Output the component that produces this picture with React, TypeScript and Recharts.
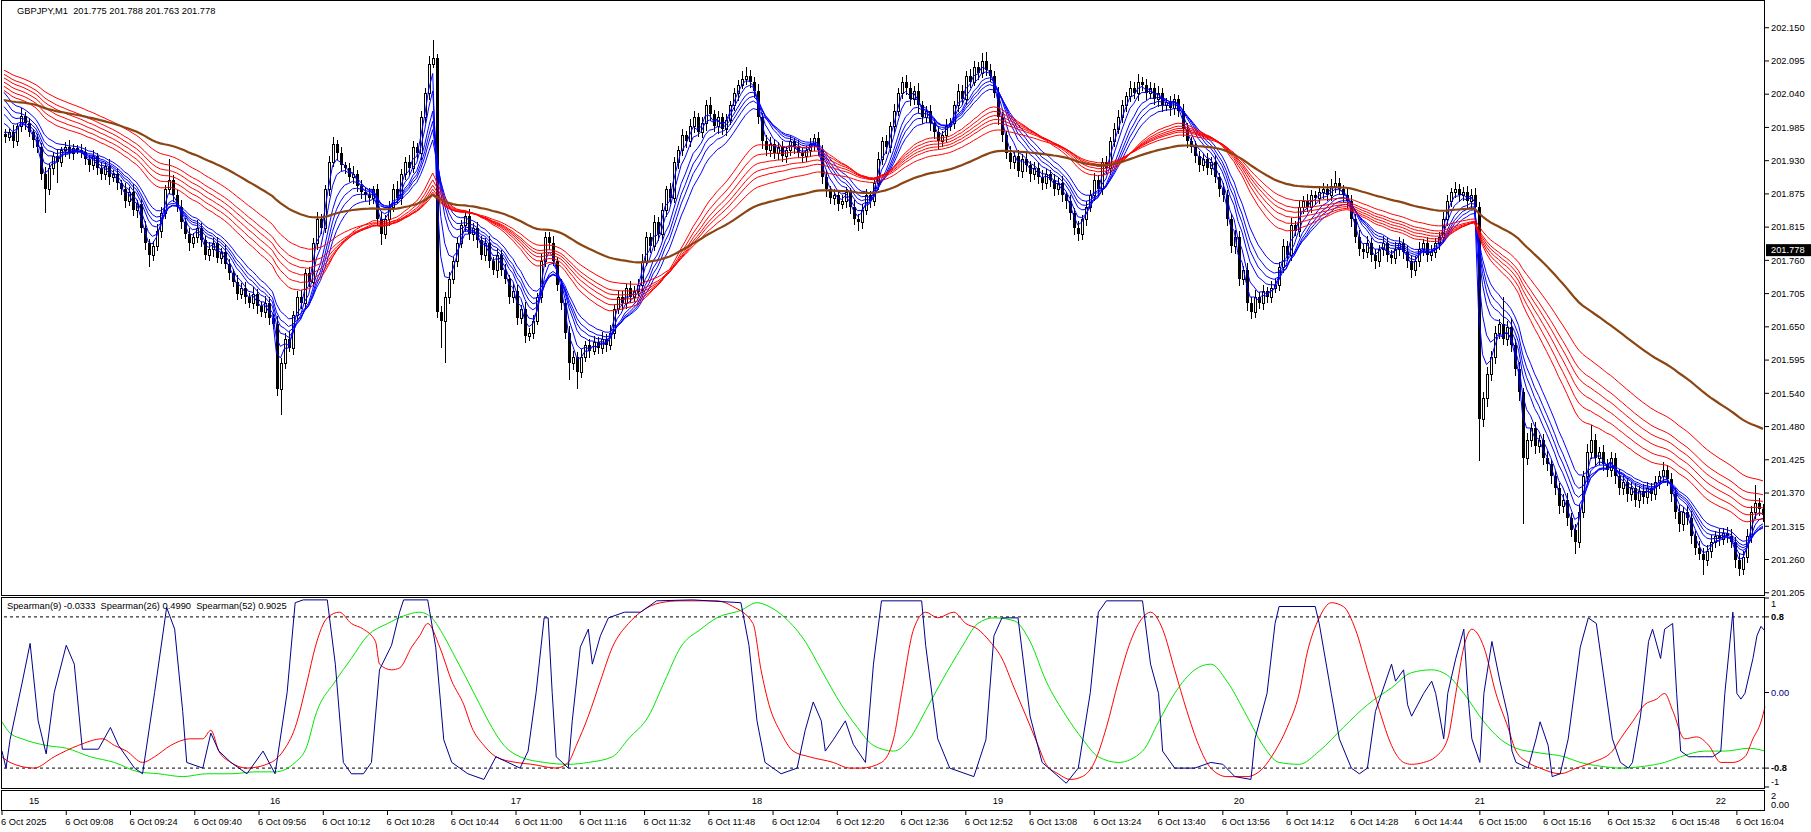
import React from 'react';
import { ComposedChart, Line, Bar, XAxis, YAxis, ReferenceLine } from 'recharts';

// ---------- DATA ----------
// closes in thousandths above 201.000 (e.g. 968 -> 201.968), one per 1-minute bar from 08:52
const closeMilli = [
  968, 975, 960, 985, 1002, 990, 975, 962, 950,
  905, 880, 915,
  935, 925, 945, 950, 940, 948, 945, 942,
  930, 920, 935, 915, 905, 918, 900, 905, 890,
  880, 860, 875, 845, 855, 815, 790, 770, 785,
  810, 840, 880, 895, 870,
  850, 825, 805, 790, 800, 815, 795, 770, 780, 790, 765, 775,
  755, 740, 725, 705, 715, 700, 690, 705, 685, 675, 690, 665, 655,
  545, 590, 630, 615, 670, 700, 690, 740, 725, 790, 830, 815, 880, 925, 955,
  940, 920, 915, 900, 905, 885, 875, 870, 865, 880,
  830, 805, 830, 850, 880, 865, 905, 925, 915, 950, 940, 1000, 1040, 1090, 1100,
  675, 660, 700, 730, 760, 790, 820, 835, 805, 815,
  795, 770, 790, 760, 745, 770, 745,
  730, 700, 710, 665, 680, 635, 640, 660,
  700, 760, 800, 790, 760, 720,
  690, 640, 590, 600, 575,
  600, 620, 610, 625, 615, 630, 620, 640,
  680, 700, 690, 715, 700, 710, 720,
  760, 800, 785, 825, 805, 845, 880, 865, 925, 945,
  970, 960, 985, 1000, 975, 990, 1020, 1005, 985, 1000, 980, 995,
  1020, 1040, 1055, 1065, 1070, 1060, 1045,
  1000, 960, 945, 955,
  940, 950, 935, 945, 960, 950, 940, 935, 945, 955, 965, 945,
  900, 880, 865, 870, 855, 860, 875, 850, 830, 825,
  845, 870, 860, 890, 930, 960, 950, 985,
  1010, 1040, 1060, 1050, 1030, 1045, 1020, 1000, 1010,
  990, 975, 960, 970, 985, 990,
  1020, 1045, 1030, 1070, 1060, 1085, 1075, 1095, 1080, 1070,
  1040, 1000, 970, 940, 925, 935, 910, 930,
  920, 905, 915, 900, 890, 905, 895, 880, 890, 870, 860,
  840, 815, 805, 830, 850,
  870, 895, 880, 925, 915, 960, 980,
  1000, 1020, 1035, 1050, 1040, 1060, 1055, 1040, 1050,
  1030, 1040, 1020, 1025, 1015, 1030, 1010,
  980, 960, 950, 935, 920, 930, 915, 925, 900, 880, 870,
  830, 785, 800, 730, 745, 690,
  675, 700, 690, 710, 700, 715, 720,
  750, 785, 770, 820, 810, 850,
  860, 850, 870, 865, 875, 880, 870, 885, 890, 880, 870, 860,
  830, 800, 780, 775,
  790, 770, 760, 780, 790, 770, 765, 780, 790, 775, 760, 745, 760, 780, 790, 770, 775, 790, 800,
  830, 860, 875, 880, 870, 875, 860, 870, 850,
  495, 530, 570, 600, 640, 655, 630, 650, 620,
  580, 540, 430, 460,
  480, 450, 460, 430, 420,
  400, 380, 350, 360, 330, 310, 290,
  340, 400, 440, 460,
  430, 440, 420, 410, 430, 400, 380, 390,
  370, 380, 360, 375, 365, 380, 370, 390,
  400, 410, 395,
  370, 340, 320, 340, 330, 300, 280, 270, 260,
  275, 290, 300, 295, 305, 300, 290,
  260, 245, 265,
  300, 340, 355, 345, 335,
];
const firstOpen = 201.972;

// upper / lower wick lengths in thousandths
const wickUp = [
  8,6,12,5,14,7,9,6,10,8, 12,9,7,11,6,9,13,8,6,10,
  9,7,11,6,10,8,12,7,9,6, 10,8,13,7,9,11,6,8,12,10,
  7,35,9,8,12,6,10,7,13,9, 6,11,8,10,7,12,9,6,11,8,
  10,7,12,8,6,11,9,7,13,8, 10,12,7,9,11,6,10,8,12,9,
  7,10,12,8,11,6,9,13,7,10, 8,12,6,9,11,7,10,8,14,9,
  8,12,10,7,11,9,12,30,6,10, 8,12,7,10,9,6,11,8,10,7,
  9,11,7,12,8,10,6,11,9,7, 12,8,10,7,11,9,8,12,6,10,
  7,11,9,8,12,6,10,9,7,11, 8,12,7,10,9,6,11,8,10,12,
  9,7,11,8,12,6,10,9,7,11, 8,12,10,7,11,9,14,8,10,7,
  11,8,10,7,12,15,9,7,11,8, 10,12,7,9,11,8,10,6,12,9,
  8,11,7,10,9,12,6,10,8,11, 9,7,12,8,10,11,7,9,12,8,
  10,8,12,9,7,11,10,8,12,7, 9,11,8,10,7,12,9,8,11,10,
  8,11,9,7,12,15,10,8,11,9, 7,12,8,10,9,11,7,10,8,12,
  9,7,11,8,12,6,10,9,11,7, 10,8,12,9,7,11,8,10,12,9,
  8,11,9,12,7,10,9,8,12,10, 7,11,9,8,12,10,7,11,8,9,
  10,8,12,7,11,9,8,12,10,7, 11,9,12,8,10,7,11,9,8,12,
  9,11,7,10,8,12,9,7,11,10, 8,12,20,9,7,11,10,8,12,9,
  11,8,10,7,12,9,8,11,10,7, 12,9,8,11,7,10,12,8,9,11,
  10,7,12,9,8,11,10,12,8,10, 12,9,11,8,45,10,12,9,11,8,
  12,9,11,8,10,12,7,11,9,10, 12,8,10,11,9,14,25,10,8,12,
  9,11,8,12,10,7,11,9,8,12, 10,9,11,8,14,9,11,10,12,8,
  10,12,8,11,9,10,12,8,11,9, 10,12,8,11,9,12,10,30,9,8,
];
const wickDn = [
  10,8,12,7,9,11,8,13,9,10, 40,9,12,35,8,11,9,12,7,10,
  9,12,8,11,10,9,13,8,11,9, 12,8,10,13,9,11,20,10,8,12,
  10,8,12,9,11,8,13,9,10,12, 8,11,13,9,10,8,12,9,11,8,
  12,9,11,13,8,10,12,9,11,42, 10,8,12,9,11,10,8,9,11,10,
  9,11,8,12,10,9,8,12,10,11, 9,12,10,11,19,9,11,8,10,12,
  10,11,8,10,12,9,11,8,10,45, 70,12,9,11,8,12,10,11,13,9,
  11,12,9,13,10,9,12,11,13,10, 12,9,11,8,10,11,12,9,11,12,
  10,30,12,30,11,9,12,8,11,10, 12,9,11,8,12,10,11,9,8,11,
  9,11,8,12,10,11,9,8,11,10, 12,9,11,8,10,12,11,9,12,10,
  11,8,10,12,8,11,10,12,11,13, 10,11,9,12,10,11,9,12,8,11,
  10,11,12,9,11,13,10,12,11,9, 11,12,10,15,11,9,12,8,11,10,
  12,9,11,8,10,12,11,9,13,11, 9,12,11,13,10,11,8,10,11,9,
  10,11,8,12,9,11,10,8,12,11, 9,12,11,10,12,11,13,10,11,12,
  10,11,12,9,11,13,12,11,12,10, 11,8,10,11,9,10,11,10,8,10,
  11,9,10,12,10,11,9,10,12,11, 10,12,11,10,12,11,10,12,11,10,
  11,12,10,13,11,12,11,13,12,11, 14,12,11,10,12,11,10,9,11,10,
  11,10,9,10,11,9,10,11,10,11, 10,9,11,10,12,11,13,10,12,11,
  10,12,13,10,11,12,11,10,12,11, 12,13,11,10,11,12,11,10,11,10,
  11,10,9,11,10,11,12,10,70,12, 14,11,12,10,11,12,13,12,14,110,
  12,11,13,11,12,11,13,12,14,12, 13,12,20,11,10,11,12,13,11,12,
  11,12,13,11,12,13,11,12,13,11, 12,11,10,11,12,11,13,12,13,11,
  12,13,12,11,25,11,12,11,12,11, 12,11,13,12,11,10,11,12,11,12,
];

// moving averages (GMMA + trend), starting values read at the left edge
const shortPeriods = [3, 5, 8, 10, 12, 15];
const shortSeeds = [201.975, 201.990, 202.005, 202.018, 202.030, 202.042];
const longPeriods = [30, 35, 40, 45, 50, 60];
const longSeeds = [202.045, 202.052, 202.059, 202.066, 202.072, 202.079];
const trendPeriod = 100;
const trendSeed = 202.029;

// Spearman oscillators: [bar, value]
const s9Points: [number, number][] = [
  [0,-0.62],[1,-0.8],[2,-0.5],[5,0.1],[7,0.52],[9,-0.3],[11,-0.65],[13,0.0],[16,0.5],[18,0.3],[20,-0.6],[24,-0.6],[27,-0.37],[29,-0.56],[33,-0.8],[35,-0.86],[38,0.0],[41,0.9],[43,0.67],[45,-0.2],[46,-0.74],[50,-0.8],[52,-0.43],[54,-0.62],[57,-0.74],[61,-0.86],[65,-0.62],[68,-0.86],[71,0.0],[73,0.95],[75,0.98],[81,0.98],[83,0.3],[85,-0.74],[87,-0.86],[90,-0.86],[92,-0.74],[94,0.24],[97,0.5],[99,0.85],[100,0.98],[106,0.98],[108,0.48],[110,-0.5],[112,-0.74],[116,-0.86],[120,-0.92],[123,-0.68],[126,-0.74],[129,-0.8],[131,-0.62],[133,0.0],[135,0.79],[136,0.79],[137,0.0],[138,-0.68],[141,-0.8],[142,-0.3],[144,0.48],[146,0.67],[147,0.3],[149,0.6],[151,0.79],[155,0.85],[159,0.85],[163,0.97],[172,0.98],[184,0.95],[186,0.5],[188,-0.3],[190,-0.74],[194,-0.86],[198,-0.8],[200,-0.4],[202,-0.1],[204,-0.3],[205,-0.62],[207,-0.5],[210,-0.3],[212,-0.55],[215,-0.74],[217,0.3],[219,0.97],[229,0.97],[230,0.5],[233,-0.49],[236,-0.8],[242,-0.89],[245,-0.5],[247,0.6],[249,0.79],[253,0.79],[256,-0.25],[259,-0.74],[265,-0.96],[268,-0.8],[271,0.0],[273,0.85],[275,0.97],[284,0.97],[286,0.3],[288,-0.01],[289,-0.62],[292,-0.8],[297,-0.8],[301,-0.74],[304,-0.76],[307,-0.89],[311,-0.92],[312,-0.49],[315,-0.01],[317,0.73],[318,0.91],[327,0.91],[328,0.73],[331,-0.01],[333,-0.49],[336,-0.8],[338,-0.86],[340,-0.8],[342,-0.2],[346,0.3],[347,0.12],[349,0.24],[350,-0.13],[351,-0.25],[354,-0.01],[356,0.12],[357,-0.01],[359,-0.49],[360,-0.01],[362,0.36],[364,0.67],[365,-0.01],[366,-0.49],[368,-0.74],[369,-0.01],[371,0.54],[373,0.12],[375,-0.25],[376,-0.62],[377,-0.74],[380,-0.8],[382,-0.49],[383,-0.31],[385,-0.56],[386,-0.89],[388,-0.86],[390,-0.49],[393,0.48],[395,0.79],[397,0.73],[399,0.12],[401,-0.49],[403,-0.74],[405,-0.8],[406,-0.74],[408,-0.25],[410,0.54],[411,0.67],[413,0.36],[414,0.67],[416,0.73],[417,-0.01],[418,-0.62],[420,-0.68],[422,-0.68],[424,-0.68],[426,-0.68],[428,-0.62],[429,-0.01],[431,0.85],[432,-0.01],[433,-0.07],[434,-0.01],[436,0.36],[437,0.6],[438,0.7],[439,0.65],
];
const s26Points: [number, number][] = [
  [0,-0.68],[2,-0.74],[8,-0.8],[13,-0.68],[19,-0.56],[25,-0.49],[28,-0.56],[31,-0.62],[35,-0.74],[38,-0.68],[42,-0.56],[47,-0.49],[50,-0.49],[52,-0.4],[54,-0.62],[57,-0.74],[61,-0.8],[67,-0.74],[70,-0.62],[73,-0.37],[76,0.12],[78,0.48],[81,0.79],[84,0.85],[87,0.73],[90,0.67],[93,0.54],[94,0.3],[97,0.24],[99,0.26],[102,0.48],[104,0.6],[106,0.73],[109,0.48],[112,0.12],[115,-0.13],[117,-0.37],[120,-0.56],[123,-0.68],[128,-0.74],[132,-0.76],[138,-0.8],[141,-0.74],[143,-0.56],[146,-0.25],[149,0.12],[152,0.48],[156,0.73],[159,0.85],[164,0.95],[169,0.97],[178,0.97],[182,0.91],[187,0.73],[189,0.24],[191,-0.13],[194,-0.43],[197,-0.62],[201,-0.68],[207,-0.74],[211,-0.8],[214,-0.8],[219,-0.74],[222,-0.49],[224,-0.01],[227,0.67],[230,0.85],[233,0.79],[237,0.85],[240,0.73],[243,0.67],[246,0.54],[249,0.36],[252,0.05],[255,-0.25],[258,-0.56],[260,-0.76],[263,-0.86],[266,-0.92],[269,-0.89],[272,-0.74],[275,-0.37],[278,0.12],[281,0.54],[284,0.79],[286,0.85],[289,0.67],[292,0.24],[295,-0.19],[298,-0.56],[301,-0.8],[305,-0.89],[310,-0.89],[314,-0.8],[317,-0.62],[320,-0.37],[323,-0.01],[325,0.42],[328,0.79],[331,0.95],[334,0.91],[337,0.67],[340,0.24],[343,-0.19],[346,-0.56],[349,-0.74],[351,-0.76],[354,-0.74],[357,-0.68],[360,-0.49],[362,-0.01],[364,0.48],[366,0.67],[369,0.48],[372,-0.01],[375,-0.37],[377,-0.62],[380,-0.74],[383,-0.8],[388,-0.86],[392,-0.8],[396,-0.74],[401,-0.62],[403,-0.49],[406,-0.31],[409,-0.13],[412,-0.07],[414,-0.01],[416,-0.19],[419,-0.49],[422,-0.47],[425,-0.56],[428,-0.74],[431,-0.74],[434,-0.68],[436,-0.49],[438,-0.31],[439,-0.15],
];
const s52Points: [number, number][] = [
  [0,-0.31],[2,-0.43],[5,-0.49],[11,-0.56],[16,-0.59],[22,-0.68],[28,-0.74],[34,-0.84],[39,-0.86],[45,-0.89],[51,-0.86],[57,-0.86],[63,-0.84],[68,-0.84],[73,-0.74],[76,-0.56],[78,-0.25],[83,0.12],[87,0.36],[91,0.6],[96,0.73],[100,0.81],[104,0.85],[107,0.79],[110,0.6],[113,0.36],[116,0.12],[119,-0.13],[122,-0.37],[125,-0.56],[129,-0.68],[135,-0.74],[141,-0.76],[146,-0.74],[152,-0.68],[156,-0.49],[161,-0.25],[165,0.12],[169,0.48],[174,0.67],[178,0.79],[184,0.87],[188,0.95],[191,0.91],[195,0.79],[200,0.54],[204,0.24],[209,-0.13],[213,-0.37],[217,-0.56],[222,-0.62],[226,-0.49],[230,-0.19],[234,0.12],[239,0.48],[243,0.73],[247,0.79],[252,0.76],[256,0.54],[260,0.12],[265,-0.25],[269,-0.49],[273,-0.68],[278,-0.74],[284,-0.62],[288,-0.31],[292,-0.01],[297,0.24],[301,0.3],[305,0.12],[310,-0.25],[314,-0.56],[318,-0.74],[323,-0.76],[328,-0.62],[334,-0.37],[340,-0.13],[346,0.05],[351,0.21],[356,0.24],[360,0.18],[364,-0.01],[369,-0.31],[373,-0.49],[377,-0.59],[383,-0.64],[389,-0.68],[393,-0.74],[398,-0.78],[403,-0.8],[409,-0.78],[414,-0.74],[418,-0.68],[424,-0.62],[429,-0.62],[435,-0.59],[439,-0.62],
];

// axis labels
const priceTickLabels = ['202.150','202.095','202.040','201.985','201.930','201.875','201.815','201.760','201.705','201.650','201.595','201.540','201.480','201.425','201.370','201.315','201.260','201.205'];
const priceTickTop = 202.150;
const priceTickBottom = 201.205;
const priceDomain: [number, number] = [201.2012, 202.1947];
const currentPrice = 201.778;
const currentPriceLabel = '201.778';
const headerText = 'GBPJPY,M1  201.775 201.788 201.763 201.778';
const oscHeaderText = 'Spearman(9) -0.0333  Spearman(26) 0.4990  Spearman(52) 0.9025';
const oscTickValues = [1, 0.8, 0, -0.8, -1];
const oscTickLabels = ['1', '0.8', '0.00', '-0.8', '-1'];
const oscLevels = [0.8, -0.8];
const stripTickValues = [2, 0];
const stripTickLabels = ['2', '0.00'];
const timeTickBars = [0,16,32,48,64,80,96,112,128,144,160,176,192,208,224,240,256,272,288,304,320,336,352,368,384,400,416,432];
const timeTickLabels = ['6 Oct 2025','6 Oct 09:08','6 Oct 09:24','6 Oct 09:40','6 Oct 09:56','6 Oct 10:12','6 Oct 10:28','6 Oct 10:44','6 Oct 11:00','6 Oct 11:16','6 Oct 11:32','6 Oct 11:48','6 Oct 12:04','6 Oct 12:20','6 Oct 12:36','6 Oct 12:52','6 Oct 13:08','6 Oct 13:24','6 Oct 13:40','6 Oct 13:56','6 Oct 14:12','6 Oct 14:28','6 Oct 14:44','6 Oct 15:00','6 Oct 15:16','6 Oct 15:32','6 Oct 15:48','6 Oct 16:04'];
const hourBars = [8, 68, 128, 188, 248, 308, 368, 428];
const hourLabels = ['15', '16', '17', '18', '19', '20', '21', '22'];

// ---------- BUILD TABLE ----------
const closes = closeMilli.map((v) => 201 + v / 1000);
const opens = closes.map((c, i) => (i === 0 ? firstOpen : closes[i - 1]));
const highs = closes.map((c, i) => Math.max(opens[i], c) + (wickUp[i] ?? 8) / 1000);
const lows = closes.map((c, i) => Math.min(opens[i], c) - (wickDn[i] ?? 8) / 1000);

function ema(period: number, seed: number): number[] {
  const a = 2 / (period + 1);
  let e = seed;
  return closes.map((c, i) => {
    if (i > 0) e = e + a * (c - e);
    return e;
  });
}
const shortEmas = shortPeriods.map((p, k) => ema(p, shortSeeds[k]));
const longEmas = longPeriods.map((p, k) => ema(p, longSeeds[k]));
const trendEma = ema(trendPeriod, trendSeed);

type Row = Record<string, any>;
const rows: Row[] = closes.map((c, i) => {
  const r: Row = { i, open: opens[i], close: c, high: highs[i], low: lows[i], range: [lows[i], highs[i]] };
  shortEmas.forEach((arr, k) => (r['s' + k] = arr[i]));
  longEmas.forEach((arr, k) => (r['l' + k] = arr[i]));
  r.trend = trendEma[i];
  r.o9 = null; r.o26 = null; r.o52 = null; r.hourPos = null;
  return r;
});
s9Points.forEach(([b, v]) => { if (rows[b]) rows[b].o9 = v; });
s26Points.forEach(([b, v]) => { if (rows[b]) rows[b].o26 = v; });
s52Points.forEach(([b, v]) => { if (rows[b]) rows[b].o52 = v; });
hourBars.forEach((b, k) => { if (rows[b]) { rows[b].hourPos = 1; rows[b].hourLabel = hourLabels[k]; } });

const priceStep = (priceTickTop - priceTickBottom) / (priceTickLabels.length - 1);
const priceTickValues = priceTickLabels.map((_, k) => priceTickTop - k * priceStep);

// ---------- STYLE ----------
const FONT = '"Liberation Sans", Arial, sans-serif';
const FS = 9.3;
const W = 1811;
const AXIS_W = 46;

const Candle = (props: any) => {
  const { x, y, width, height, payload } = props;
  if (!payload || x == null || y == null) return <g />;
  const { open, close, high, low } = payload;
  const cx = Math.round(x + width / 2);
  const span = high - low;
  const k = span > 0 ? height / span : 0;
  const yOf = (p: number) => y + (high - p) * k;
  const top = Math.round(yOf(Math.max(open, close)));
  const bot = Math.round(yOf(Math.min(open, close)));
  const bull = close >= open;
  return (
    <g shapeRendering="crispEdges">
      <line x1={cx + 0.5} x2={cx + 0.5} y1={Math.round(y)} y2={Math.round(y + height)} stroke="#000" strokeWidth={1} />
      {bull ? (
        <rect x={cx - 0.5} y={top + 0.5} width={2} height={Math.max(bot - top, 1)} fill="#fff" stroke="#000" strokeWidth={1} />
      ) : (
        <rect x={cx - 1} y={top} width={3} height={Math.max(bot - top, 1)} fill="#000" />
      )}
    </g>
  );
};

const PriceTag = (props: any) => {
  const vb = props.viewBox || {};
  if (vb.y == null) return <g />;
  const x0 = vb.x + vb.width + 1;
  return (
    <g>
      <rect x={x0} y={vb.y - 6} width={AXIS_W} height={12} fill="#000" />
      <text x={x0 + 5} y={vb.y} dy="0.35em" fill="#fff" fontSize={FS} fontFamily={FONT}>{currentPriceLabel}</text>
    </g>
  );
};

const OscTick = (props: any) => {
  const v = props.payload?.value;
  const idx = oscTickValues.indexOf(v);
  const shift = v === 1 ? 6 : v === -1 ? -5 : 0;
  const bold = v === 0.8 || v === -0.8;
  return (
    <text x={props.x} y={props.y + shift} dy="0.35em" textAnchor="start" fontSize={FS} fontFamily={FONT}
      fontWeight={bold ? 700 : 400} fill={v === 0 ? '#000080' : '#000'}>
      {idx >= 0 ? oscTickLabels[idx] : ''}
    </text>
  );
};

const StripTick = (props: any) => {
  const v = props.payload?.value;
  const idx = stripTickValues.indexOf(v);
  const shift = v === 2 ? 5 : -5;
  return (
    <text x={props.x} y={props.y + shift} dy="0.35em" textAnchor="start" fontSize={FS} fontFamily={FONT} fill="#000">
      {idx >= 0 ? stripTickLabels[idx] : ''}
    </text>
  );
};

const TimeTick = (props: any) => {
  const v = props.payload?.value;
  const idx = timeTickBars.indexOf(v);
  return (
    <text x={props.x - 1} y={props.y} dy="0.71em" textAnchor="start" fontSize={FS} fontFamily={FONT} fill="#000">
      {idx >= 0 ? timeTickLabels[idx] : ''}
    </text>
  );
};

const HourDot = (props: any) => {
  const { cx, cy, payload, index } = props;
  if (!payload || !payload.hourLabel || cx == null || cy == null) return <g key={'hd' + index} />;
  return (
    <text key={'hd' + index} x={cx} y={cy} dy="0.35em" textAnchor="middle" fontSize={FS} fontFamily={FONT} fill="#000">
      {payload.hourLabel}
    </text>
  );
};

const shortColor = '#0000FF';
const longColor = '#FF0000';
const trendColor = '#8B4513';

const border = (top: number, height: number): React.CSSProperties => ({
  position: 'absolute', left: 1, top, width: 1764, height, border: '1px solid #000',
  boxSizing: 'border-box', pointerEvents: 'none',
});

export default function App() {
  return (
    <div style={{ position: 'absolute', left: 0, top: 0, width: W, height: 832, background: '#fff', overflow: 'hidden', fontFamily: FONT }}>
      {/* main price panel */}
      <div style={{ position: 'absolute', left: 0, top: 0 }}>
        <ComposedChart width={W} height={601} data={rows} margin={{ top: 1, right: 0, bottom: 6, left: 2 }}>
          <XAxis dataKey="i" hide />
          <YAxis orientation="right" width={AXIS_W} domain={priceDomain} allowDataOverflow type="number"
            ticks={priceTickValues} interval={0} axisLine={false} tickSize={4} tickMargin={2}
            tickLine={{ stroke: '#000' }}
            tick={{ fontSize: FS, fontFamily: FONT, fill: '#000' }}
            tickFormatter={(v: number) => priceTickLabels[Math.round((priceTickTop - v) / priceStep)] ?? ''} />
          <Bar dataKey="range" barSize={3} shape={<Candle />} isAnimationActive={false} />
          {shortPeriods.map((p, k) => (
            <Line key={'s' + k} dataKey={'s' + k} stroke={shortColor} strokeWidth={1} dot={false} type="linear" isAnimationActive={false} />
          ))}
          {longPeriods.map((p, k) => (
            <Line key={'l' + k} dataKey={'l' + k} stroke={longColor} strokeWidth={1} dot={false} type="linear" isAnimationActive={false} />
          ))}
          <Line dataKey="trend" stroke={trendColor} strokeWidth={2.2} dot={false} type="linear" isAnimationActive={false} />
          <ReferenceLine y={currentPrice} stroke="none" ifOverflow="visible" label={(p: any) => <PriceTag {...p} />} />
        </ComposedChart>
      </div>
      <div style={border(0, 596)} />
      <div style={{ position: 'absolute', left: 17, top: 5, fontSize: FS, lineHeight: '12px', whiteSpace: 'pre', color: '#000' }}>{headerText}</div>

      {/* oscillator panel */}
      <div style={{ position: 'absolute', left: 0, top: 597 }}>
        <ComposedChart width={W} height={191} data={rows} margin={{ top: 1, right: 0, bottom: 1, left: 2 }}>
          <XAxis dataKey="i" hide />
          <YAxis orientation="right" width={AXIS_W} domain={[-1, 1]} allowDataOverflow type="number"
            ticks={oscTickValues} interval={0} axisLine={false} tickSize={4} tickMargin={2}
            tickLine={{ stroke: '#000' }} tick={<OscTick />} />
          {oscLevels.map((lv) => (
            <ReferenceLine key={'lv' + lv} y={lv} stroke="#000" strokeDasharray="3 3" strokeWidth={1} />
          ))}
          <Line dataKey="o52" stroke="#00E600" strokeWidth={1} dot={false} type="monotone" connectNulls isAnimationActive={false} />
          <Line dataKey="o26" stroke="#FF0000" strokeWidth={1} dot={false} type="monotone" connectNulls isAnimationActive={false} />
          <Line dataKey="o9" stroke="#00008B" strokeWidth={1} dot={false} type="linear" connectNulls isAnimationActive={false} />
        </ComposedChart>
      </div>
      <div style={border(597, 192)} />
      <div style={{ position: 'absolute', left: 7, top: 600, fontSize: FS, lineHeight: '12px', whiteSpace: 'pre', color: '#000' }}>{oscHeaderText}</div>

      {/* hour strip + time axis */}
      <div style={{ position: 'absolute', left: 0, top: 790 }}>
        <ComposedChart width={W} height={42} data={rows} margin={{ top: 1, right: 0, bottom: 0, left: 2 }}>
          <XAxis dataKey="i" ticks={timeTickBars} interval={0} axisLine={false} tickSize={5} tickMargin={3}
            tickLine={{ stroke: '#000' }} tick={<TimeTick />} height={22} />
          <YAxis orientation="right" width={AXIS_W} domain={[0, 2]} allowDataOverflow type="number"
            ticks={stripTickValues} interval={0} axisLine={false} tickSize={4} tickMargin={2}
            tickLine={false} tick={<StripTick />} />
          <Line dataKey="hourPos" stroke="none" dot={(p: any) => <HourDot {...p} />} isAnimationActive={false} />
        </ComposedChart>
      </div>
      <div style={border(790, 21)} />
    </div>
  );
}
